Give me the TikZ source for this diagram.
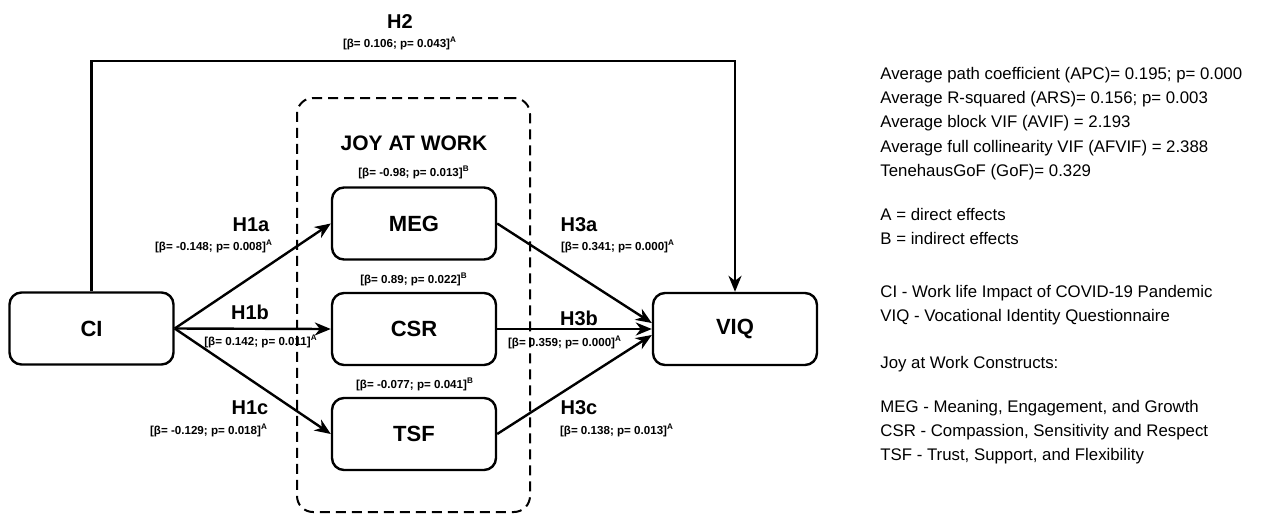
\documentclass[tikz,border=0pt]{standalone}
\usepackage{fontspec}
\setmainfont{Liberation Sans}
\usetikzlibrary{arrows.meta}

\tikzset{
	box/.style={draw, line width=1.2pt, rounded corners=6pt, minimum width=82pt, minimum height=36pt, font=\fontsize{11}{13}\selectfont\bfseries},
	hyp/.style={font=\fontsize{10}{12}\selectfont\bfseries},
	coef/.style={font=\fontsize{5.8}{7}\selectfont\bfseries, inner sep=0pt},
	link/.style={line width=1.2pt, -{Stealth[length=8pt,width=6.5pt,inset=2.5pt]}},
	joyframe/.style={draw, dashed, dash pattern=on 5pt off 3pt, line width=1pt, rounded corners=8pt},
	legend/.style={anchor=north west, align=left, inner sep=0pt, font=\fontsize{8.4}{12.1}\selectfont}
}
\newcommand{\sig}[1]{\textsuperscript{#1}}

\begin{document}
\begin{tikzpicture}[x=0.5pt, y=-0.5pt]
	\useasboundingbox (0,0) rectangle (1261,515);
	% \draw [help lines, step=50] (0,0) grid (1261,515);

	\node[joyframe, minimum width=116.5pt, minimum height=207pt] (frame) at (413.5,305) {};
	\node[hyp, font=\fontsize{10.5}{12}\selectfont\bfseries] (joy) at (414,143) {JOY AT WORK};

	\node[box] (CI) at (91.5,328.5) {CI};
	\node[box] (MEG) at (414,223.5) {MEG};
	\node[box] (CSR) at (414,329) {CSR};
	\node[box] (TSF) at (414,434) {TSF};
	\node[box] (VIQ) at (735,329) {VIQ};

	\coordinate (top) at (400,61);
	\draw[link] (CI.north) |- (top) -| (VIQ.north);

	\draw[link] (CI.east) -- (MEG.west);
	\draw[link] (CI.east) -- (CSR.west);
	\draw[link] (CI.east) -- (TSF.west);
	\draw[link] (MEG.east) -- ([yshift=3pt]VIQ.west);
	\draw[link] (CSR.east) -- (VIQ.west);
	\draw[link] (TSF.east) -- ([yshift=-3pt]VIQ.west);

	% hypothesis labels
	\node[hyp] (H2) at (400,22) {H2};
	\node[coef] (H2v) at (400,43) {[β= 0.106; p= 0.043]\sig{A}};
	\node[hyp] (H1a) at (251,225) {H1a};
	\node[coef] (H1av) at (214,246) {[β= -0.148; p= 0.008]\sig{A}};
	\node[hyp] (H1b) at (250,312) {H1b};
	\node[coef] (H1bv) at (261,341) {[β= 0.142; p= 0.011]\sig{A}};
	\node[hyp] (H1c) at (250,408) {H1c};
	\node[coef] (H1cv) at (209,430) {[β= -0.129; p= 0.018]\sig{A}};
	\node[hyp] (H3a) at (579,225) {H3a};
	\node[coef] (H3av) at (618,246) {[β= 0.341; p= 0.000]\sig{A}};
	\node[hyp] (H3b) at (579,318) {H3b};
	\node[coef] (H3bv) at (565,342) {[β= 0.359; p= 0.000]\sig{A}};
	\node[hyp] (H3c) at (579,408) {H3c};
	\node[coef] (H3cv) at (617,430) {[β= 0.138; p= 0.013]\sig{A}};

	% indirect effects
	\node[coef] (MEGv) at (414,172) {[β= -0.98; p= 0.013]\sig{B}};
	\node[coef] (CSRv) at (414,279) {[β= 0.89; p= 0.022]\sig{B}};
	\node[coef] (TSFv) at (415,384) {[β= -0.077; p= 0.041]\sig{B}};

	% legend
	\node[legend] (fit) at (880,67) {Average path coefficient (APC)= 0.195; p= 0.000\\
		Average R-squared (ARS)= 0.156; p= 0.003\\
		Average block VIF (AVIF) = 2.193\\
		Average full collinearity VIF (AFVIF) = 2.388\\
		TenehausGoF (GoF)= 0.329};
	\node[legend] (effects) at (880,208) {A = direct effects\\B = indirect effects};
	\node[legend] (abbr) at (880,285) {CI - Work life Impact of COVID-19 Pandemic\\VIQ - Vocational Identity Questionnaire};
	\node[legend] (joyhead) at (880,356) {Joy at Work Constructs:};
	\node[legend] (constructs) at (880,400) {MEG - Meaning, Engagement, and Growth\\
		CSR - Compassion, Sensitivity and Respect\\
		TSF - Trust, Support, and Flexibility};
\end{tikzpicture}
\end{document}
